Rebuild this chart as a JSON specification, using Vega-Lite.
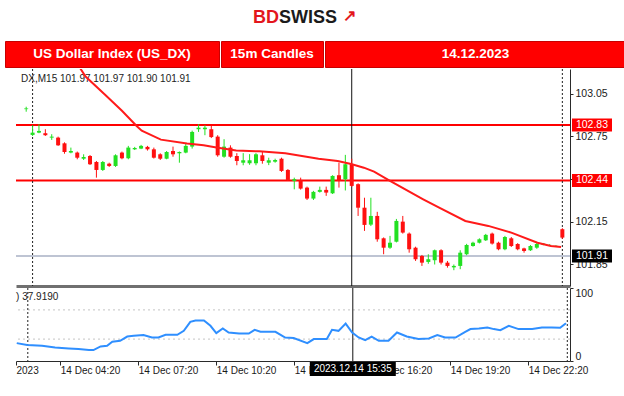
{
  "$schema": "https://vega.github.io/schema/vega-lite/v6.json",
  "background": "white",
  "padding": {"left": 4, "top": 0, "right": 0, "bottom": 0},
  "spacing": 0,
  "config": {
    "view": {"stroke": null},
    "font": "Liberation Sans",
    "axis": {"grid": false, "labelFont": "Liberation Sans", "labelColor": "#1a1a1a", "domainColor": "#2a2a2a", "tickColor": "#2a2a2a", "labelFontSize": 10.5, "zindex": 0}
  },
  "datasets": {
    "candles": [
      {"i":0,"o":102.941,"h":102.958,"l":102.923,"c":102.946},
      {"i":1,"o":102.760,"h":102.828,"l":102.753,"c":102.776},
      {"i":2,"o":102.776,"h":102.835,"l":102.772,"c":102.788},
      {"i":3,"o":102.772,"h":102.800,"l":102.753,"c":102.758},
      {"i":4,"o":102.741,"h":102.765,"l":102.725,"c":102.748},
      {"i":5,"o":102.741,"h":102.748,"l":102.683,"c":102.687},
      {"i":6,"o":102.701,"h":102.708,"l":102.628,"c":102.640},
      {"i":7,"o":102.636,"h":102.671,"l":102.631,"c":102.647},
      {"i":8,"o":102.636,"h":102.643,"l":102.589,"c":102.600},
      {"i":9,"o":102.593,"h":102.624,"l":102.584,"c":102.605},
      {"i":10,"o":102.612,"h":102.619,"l":102.549,"c":102.554},
      {"i":11,"o":102.570,"h":102.577,"l":102.460,"c":102.514},
      {"i":12,"o":102.514,"h":102.577,"l":102.507,"c":102.570},
      {"i":13,"o":102.558,"h":102.565,"l":102.535,"c":102.542},
      {"i":14,"o":102.542,"h":102.624,"l":102.535,"c":102.617},
      {"i":15,"o":102.636,"h":102.643,"l":102.589,"c":102.596},
      {"i":16,"o":102.596,"h":102.683,"l":102.589,"c":102.671},
      {"i":17,"o":102.659,"h":102.676,"l":102.654,"c":102.668},
      {"i":18,"o":102.664,"h":102.690,"l":102.660,"c":102.683},
      {"i":19,"o":102.676,"h":102.683,"l":102.650,"c":102.659},
      {"i":20,"o":102.659,"h":102.671,"l":102.594,"c":102.600},
      {"i":21,"o":102.624,"h":102.631,"l":102.584,"c":102.593},
      {"i":22,"o":102.593,"h":102.647,"l":102.589,"c":102.640},
      {"i":23,"o":102.647,"h":102.678,"l":102.607,"c":102.624},
      {"i":24,"o":102.631,"h":102.644,"l":102.565,"c":102.640},
      {"i":25,"o":102.636,"h":102.701,"l":102.631,"c":102.683},
      {"i":26,"o":102.678,"h":102.790,"l":102.664,"c":102.781},
      {"i":27,"o":102.800,"h":102.835,"l":102.781,"c":102.811},
      {"i":28,"o":102.800,"h":102.828,"l":102.758,"c":102.811},
      {"i":29,"o":102.800,"h":102.823,"l":102.738,"c":102.745},
      {"i":30,"o":102.748,"h":102.758,"l":102.607,"c":102.617},
      {"i":31,"o":102.607,"h":102.730,"l":102.600,"c":102.678},
      {"i":32,"o":102.671,"h":102.687,"l":102.600,"c":102.607},
      {"i":33,"o":102.612,"h":102.632,"l":102.547,"c":102.577},
      {"i":34,"o":102.565,"h":102.632,"l":102.547,"c":102.582},
      {"i":35,"o":102.561,"h":102.625,"l":102.550,"c":102.582},
      {"i":36,"o":102.561,"h":102.632,"l":102.547,"c":102.624},
      {"i":37,"o":102.617,"h":102.640,"l":102.558,"c":102.577},
      {"i":38,"o":102.565,"h":102.600,"l":102.548,"c":102.582},
      {"i":39,"o":102.572,"h":102.593,"l":102.565,"c":102.584},
      {"i":40,"o":102.593,"h":102.600,"l":102.500,"c":102.507},
      {"i":41,"o":102.514,"h":102.520,"l":102.437,"c":102.444},
      {"i":42,"o":102.437,"h":102.460,"l":102.378,"c":102.449},
      {"i":43,"o":102.444,"h":102.460,"l":102.376,"c":102.383},
      {"i":44,"o":102.390,"h":102.397,"l":102.303,"c":102.313},
      {"i":45,"o":102.313,"h":102.367,"l":102.303,"c":102.360},
      {"i":46,"o":102.360,"h":102.397,"l":102.355,"c":102.374},
      {"i":47,"o":102.374,"h":102.397,"l":102.332,"c":102.355},
      {"i":48,"o":102.350,"h":102.477,"l":102.345,"c":102.472},
      {"i":49,"o":102.477,"h":102.565,"l":102.390,"c":102.437},
      {"i":50,"o":102.449,"h":102.620,"l":102.370,"c":102.554},
      {"i":51,"o":102.554,"h":102.593,"l":102.395,"c":102.402},
      {"i":52,"o":102.414,"h":102.420,"l":102.191,"c":102.249},
      {"i":53,"o":102.249,"h":102.319,"l":102.086,"c":102.128},
      {"i":54,"o":102.130,"h":102.319,"l":102.120,"c":102.191},
      {"i":55,"o":102.191,"h":102.220,"l":102.010,"c":102.027},
      {"i":56,"o":102.034,"h":102.040,"l":101.922,"c":101.968},
      {"i":57,"o":101.968,"h":102.051,"l":101.960,"c":102.003},
      {"i":58,"o":102.010,"h":102.170,"l":102.005,"c":102.156},
      {"i":59,"o":102.151,"h":102.191,"l":102.067,"c":102.074},
      {"i":60,"o":102.067,"h":102.075,"l":101.933,"c":101.957},
      {"i":61,"o":101.968,"h":101.975,"l":101.875,"c":101.887},
      {"i":62,"o":101.910,"h":101.917,"l":101.840,"c":101.863},
      {"i":63,"o":101.868,"h":101.922,"l":101.855,"c":101.887},
      {"i":64,"o":101.880,"h":101.955,"l":101.850,"c":101.950},
      {"i":65,"o":101.950,"h":101.957,"l":101.850,"c":101.863},
      {"i":66,"o":101.863,"h":101.875,"l":101.828,"c":101.840},
      {"i":67,"o":101.830,"h":101.850,"l":101.810,"c":101.840},
      {"i":68,"o":101.840,"h":101.950,"l":101.817,"c":101.933},
      {"i":69,"o":101.922,"h":101.995,"l":101.915,"c":101.987},
      {"i":70,"o":101.980,"h":102.010,"l":101.975,"c":102.003},
      {"i":71,"o":102.003,"h":102.034,"l":101.998,"c":102.027},
      {"i":72,"o":102.020,"h":102.065,"l":102.015,"c":102.058},
      {"i":73,"o":102.067,"h":102.074,"l":101.990,"c":101.997},
      {"i":74,"o":102.003,"h":102.010,"l":101.950,"c":101.957},
      {"i":75,"o":101.957,"h":102.051,"l":101.950,"c":102.043},
      {"i":76,"o":102.034,"h":102.043,"l":101.973,"c":101.980},
      {"i":77,"o":101.994,"h":102.000,"l":101.950,"c":101.957},
      {"i":78,"o":101.963,"h":101.968,"l":101.933,"c":101.945},
      {"i":79,"o":101.950,"h":101.987,"l":101.945,"c":101.980},
      {"i":80,"o":101.968,"h":102.003,"l":101.960,"c":101.994},
      {"i":81,"o":101.990,"h":102.001,"l":101.985,"c":101.997},
      {"i":82,"o":101.984,"h":101.992,"l":101.980,"c":101.988},
      {"i":83,"o":101.978,"h":101.985,"l":101.974,"c":101.981},
      {"i":84,"o":102.098,"h":102.105,"l":102.030,"c":102.039}
    ],
    "ma": [
      {"i":8,"v":103.26},{"i":9.3,"v":103.17},{"i":12.4,"v":103.04},{"i":15,"v":102.93},{"i":17.3,"v":102.823},
      {"i":18.1,"v":102.79},{"i":21.1,"v":102.727},{"i":25.2,"v":102.70},{"i":27.8,"v":102.687},{"i":29.8,"v":102.671},
      {"i":32.9,"v":102.650},{"i":36.5,"v":102.645},{"i":40.6,"v":102.631},{"i":45.8,"v":102.593},{"i":48.8,"v":102.577},
      {"i":50.9,"v":102.556},{"i":52.9,"v":102.530},{"i":54.5,"v":102.502},{"i":57.0,"v":102.437},{"i":62.2,"v":102.308},
      {"i":64.7,"v":102.249},{"i":68.8,"v":102.156},{"i":72.4,"v":102.121},{"i":76.0,"v":102.074},{"i":80.1,"v":102.003},
      {"i":82.2,"v":101.980},{"i":83.8,"v":101.973}
    ],
    "rsi": [
      {"i":-0.7,"v":24.5},{"i":0.9,"v":21.8},{"i":3.2,"v":20.9},{"i":5.2,"v":18.5},{"i":7.3,"v":17.2},{"i":8.8,"v":16.3},
      {"i":10.4,"v":15},{"i":11.1,"v":15},{"i":12.2,"v":19.9},{"i":13.2,"v":20.9},{"i":14.0,"v":26.3},{"i":15.2,"v":27.7},
      {"i":16.3,"v":33.5},{"i":17.3,"v":34.5},{"i":18.8,"v":35.5},{"i":20.1,"v":32.2},{"i":21.1,"v":32.2},{"i":22.2,"v":35.9},
      {"i":24.0,"v":35.9},{"i":25.0,"v":41.3},{"i":26.0,"v":53.6},{"i":26.8,"v":55.4},{"i":28.1,"v":55.4},{"i":29.1,"v":48.2},
      {"i":30.0,"v":38.2},{"i":31.0,"v":44.5},{"i":31.9,"v":39},{"i":33.5,"v":37.6},{"i":35.0,"v":37.6},{"i":35.9,"v":42.7},
      {"i":36.8,"v":40},{"i":39.1,"v":40},{"i":40.6,"v":32.2},{"i":41.9,"v":31.4},{"i":44.0,"v":24.5},{"i":45.0,"v":30},
      {"i":47.0,"v":30},{"i":47.8,"v":42.7},{"i":48.8,"v":41.3},{"i":49.9,"v":51.3},{"i":50.9,"v":39},{"i":51.9,"v":32.2},
      {"i":52.9,"v":28.6},{"i":53.9,"v":33.5},{"i":55.0,"v":27.7},{"i":56.5,"v":27.7},{"i":57.8,"v":39},{"i":59.3,"v":33.5},
      {"i":61.1,"v":30},{"i":62.7,"v":30.9},{"i":64.0,"v":35.5},{"i":65.2,"v":32.2},{"i":66.8,"v":32.2},{"i":68.3,"v":40},
      {"i":69.1,"v":43.7},{"i":70.4,"v":44.5},{"i":71.7,"v":45.8},{"i":72.7,"v":43.7},{"i":73.7,"v":42.3},{"i":75.0,"v":48.2},
      {"i":76.5,"v":43.7},{"i":78.6,"v":43.7},{"i":80.1,"v":45.8},{"i":81.6,"v":45.8},{"i":82.9,"v":45.4},{"i":83.8,"v":51.8}
    ],
    "levels": [
      {"price":102.83,"kind":"level"},
      {"price":102.44,"kind":"level"},
      {"price":101.91,"kind":"bid"}
    ],
    "cross": [{"i":51,"label":"2023.12.14 15:35"}],
    "seps": [{"i":1},{"i":84}],
    "rsiLevels": [{"level":30},{"level":70}]
  },
  "vconcat": [
    {
      "width": 617, "height": 40,
      "data": {"values": [{"brand":"BD","rest":"SWISS","arrow":"↗"}]},
      "layer": [
        {"mark": {"type":"text","align":"right","dx":-34.5,"dy":-2,"fontSize":18,"fontWeight":"bold","color":"#e3161d"}, "encoding": {"text": {"field":"brand"}}},
        {"mark": {"type":"text","align":"left","dx":-34.5,"dy":-2,"fontSize":18,"fontWeight":"bold","color":"#1b1b1b"}, "encoding": {"text": {"field":"rest"}}},
        {"mark": {"type":"text","align":"left","dx":29,"dy":-4,"fontSize":16,"fontWeight":"bold","color":"#e3161d"}, "encoding": {"text": {"field":"arrow"}}}
      ]
    },
    {
      "spacing": 0,
      "hconcat": [
        {"width": 214, "height": 26, "view": {"fill":"#ff0000","stroke":"#c80000"}, "data": {"values":[{"t":"US Dollar Index (US_DX)"}]}, "mark": {"type":"text","color":"white","fontSize":13.5,"fontWeight":"bold"}, "encoding": {"text":{"field":"t"}}},
        {"width": 102, "height": 26, "view": {"fill":"#ff0000","stroke":"#c80000"}, "data": {"values":[{"t":"15m Candles"}]}, "mark": {"type":"text","color":"white","fontSize":13.5,"fontWeight":"bold"}, "encoding": {"text":{"field":"t"}}},
        {"width": 301, "height": 26, "view": {"fill":"#ff0000","stroke":"#c80000"}, "data": {"values":[{"t":"14.12.2023"}]}, "mark": {"type":"text","color":"white","fontSize":13.5,"fontWeight":"bold"}, "encoding": {"text":{"field":"t"}}}
      ]
    },
    {
      "spacing": 0,
      "hconcat": [
        {"width": 10, "height": 10, "data": {"values": [{}]}, "mark": {"type":"text"}, "encoding": {}},
        {
          "spacing": 0,
          "vconcat": [
            {
              "width": 554, "height": 217,
              "layer": [
                {
                  "data": {"name":"levels"},
                  "mark": {"type":"rule"},
                  "encoding": {
                    "y": {"field":"price","type":"quantitative","title":null,"scale":{"domain":[101.699,103.223],"nice":false,"zero":false},
                          "axis": {"orient":"right","values":[101.85,102.15,102.45,102.75,103.05],"format":".2f","tickSize":3,"labelPadding":2,"labelFontSize":10.5,"zindex":0}},
                    "color": {"condition": {"test":"datum.kind === 'bid'","value":"#a9b1c4"},"value":"#ff0000"},
                    "strokeWidth": {"condition": {"test":"datum.kind === 'bid'","value":1.5},"value":2}
                  }
                },
                {
                  "data": {"name":"seps"},
                  "mark": {"type":"rule","strokeDash":[2,2],"color":"#222222","strokeWidth":1},
                  "encoding": {"x": {"field":"i","type":"quantitative","title":null,"scale":{"domain":[-0.815,84.415],"nice":false,"zero":false}}}
                },
                {
                  "data": {"name":"cross"},
                  "mark": {"type":"rule","color":"#111111","strokeWidth":1},
                  "encoding": {"x": {"field":"i","type":"quantitative","title":null,"scale":{"domain":[-0.815,84.415],"nice":false,"zero":false}}}
                },
                {
                  "data": {"values":[{"t":"DX,M15  101.97 101.97 101.90 101.91"}]},
                  "mark": {"type":"text","align":"left","baseline":"middle","fontSize":10,"color":"#222222"},
                  "encoding": {
                    "x": {"datum":-0.8,"type":"quantitative","title":null,"scale":{"domain":[-0.815,84.415],"nice":false,"zero":false}},
                    "y": {"datum":103.15,"type":"quantitative","title":null,"scale":{"domain":[101.699,103.223],"nice":false,"zero":false}},
                    "text": {"field":"t"}
                  }
                },
                {
                  "data": {"name":"candles"},
                  "mark": {"type":"rule","strokeWidth":1,"clip":true},
                  "encoding": {
                    "x": {"field":"i","type":"quantitative","title":null,"scale":{"domain":[-0.815,84.415],"nice":false,"zero":false},
                          "axis": {"labels":false,"ticks":false,"domainWidth":3,"domainColor":"#707070","zindex":0}},
                    "y": {"field":"l","type":"quantitative","title":null,"scale":{"domain":[101.699,103.223],"nice":false,"zero":false}},
                    "y2": {"field":"h"},
                    "color": {"condition": {"test":"datum.c >= datum.o","value":"#22e022"},"value":"#ff1010"}
                  }
                },
                {
                  "data": {"name":"candles"},
                  "mark": {"type":"bar","width":4,"clip":true,"opacity":1},
                  "encoding": {
                    "x": {"field":"i","type":"quantitative","title":null,"scale":{"domain":[-0.815,84.415],"nice":false,"zero":false}},
                    "y": {"field":"o","type":"quantitative","title":null,"scale":{"domain":[101.699,103.223],"nice":false,"zero":false}},
                    "y2": {"field":"c"},
                    "color": {"condition": {"test":"datum.c >= datum.o","value":"#22e022"},"value":"#ff1010"}
                  }
                },
                {
                  "data": {"name":"ma"},
                  "mark": {"type":"line","color":"#ff1a1a","strokeWidth":2,"clip":true},
                  "encoding": {
                    "x": {"field":"i","type":"quantitative","title":null,"scale":{"domain":[-0.815,84.415],"nice":false,"zero":false}},
                    "y": {"field":"v","type":"quantitative","title":null,"scale":{"domain":[101.699,103.223],"nice":false,"zero":false}}
                  }
                },
                {
                  "data": {"name":"levels"},
                  "mark": {"type":"tick","orient":"horizontal","size":40,"thickness":13,"xOffset":22,"opacity":1},
                  "encoding": {
                    "x": {"value":"width"},
                    "y": {"field":"price","type":"quantitative","title":null,"scale":{"domain":[101.699,103.223],"nice":false,"zero":false}},
                    "color": {"condition": {"test":"datum.kind === 'bid'","value":"#000000"},"value":"#ff0000"}
                  }
                },
                {
                  "data": {"name":"levels"},
                  "mark": {"type":"text","color":"white","fontSize":10.5,"align":"center","baseline":"middle","xOffset":22},
                  "encoding": {
                    "x": {"value":"width"},
                    "y": {"field":"price","type":"quantitative","title":null,"scale":{"domain":[101.699,103.223],"nice":false,"zero":false}},
                    "text": {"field":"price","type":"quantitative","format":".2f"}
                  }
                }
              ]
            },
            {
              "width": 554, "height": 73,
              "layer": [
                {
                  "data": {"name":"rsiLevels"},
                  "mark": {"type":"rule","strokeDash":[2,3],"color":"#c4c4c4","strokeWidth":1},
                  "encoding": {
                    "y": {"field":"level","type":"quantitative","title":null,"scale":{"domain":[0,100],"nice":false,"zero":false},
                          "axis": {"orient":"right","values":[0,30,70,100],"tickSize":3,"labelPadding":2,"labelFlush":true,"labelFontSize":10.5,"zindex":0}}
                  }
                },
                {
                  "data": {"name":"seps"},
                  "mark": {"type":"rule","strokeDash":[2,2],"color":"#222222","strokeWidth":1},
                  "encoding": {"x": {"field":"i","type":"quantitative","title":null,"scale":{"domain":[-0.815,84.415],"nice":false,"zero":false}}}
                },
                {
                  "data": {"name":"cross"},
                  "mark": {"type":"rule","color":"#111111","strokeWidth":1},
                  "encoding": {"x": {"field":"i","type":"quantitative","title":null,"scale":{"domain":[-0.815,84.415],"nice":false,"zero":false}}}
                },
                {
                  "data": {"values":[{"t":") 37.9190"}]},
                  "mark": {"type":"text","align":"left","baseline":"middle","fontSize":10,"color":"#222222"},
                  "encoding": {
                    "x": {"datum":-0.8,"type":"quantitative","title":null,"scale":{"domain":[-0.815,84.415],"nice":false,"zero":false}},
                    "y": {"datum":87.5,"type":"quantitative","title":null,"scale":{"domain":[0,100],"nice":false,"zero":false}},
                    "text": {"field":"t"}
                  }
                },
                {
                  "data": {"name":"rsi"},
                  "mark": {"type":"line","color":"#2f8fff","strokeWidth":2,"clip":true},
                  "encoding": {
                    "x": {"field":"i","type":"quantitative","title":null,"scale":{"domain":[-0.815,84.415],"nice":false,"zero":false},
                          "axis": {"orient":"bottom","values":[-0.815,6,18,30,42,54,66,78],
                                   "labelExpr":"datum.value < 0 ? '2023' : '14 Dec ' + timeFormat(datetime(2023, 11, 14, 2, 50 + 15 * datum.value), '%H:%M')",
                                   "labelAlign":"left","labelOverlap":false,"labelBound":false,"labelFlush":false,"labelFontSize":10,
                                   "tickSize":4,"labelPadding":0,"zindex":0}},
                    "y": {"field":"v","type":"quantitative","title":null,"scale":{"domain":[0,100],"nice":false,"zero":false}}
                  }
                },
                {
                  "data": {"name":"cross"},
                  "mark": {"type":"tick","orient":"horizontal","size":86,"thickness":14,"yOffset":8,"opacity":1,"color":"#000000"},
                  "encoding": {
                    "x": {"field":"i","type":"quantitative","title":null,"scale":{"domain":[-0.815,84.415],"nice":false,"zero":false}},
                    "y": {"value":"height"}
                  }
                },
                {
                  "data": {"name":"cross"},
                  "mark": {"type":"text","color":"white","fontSize":10,"align":"center","baseline":"middle","yOffset":8},
                  "encoding": {
                    "x": {"field":"i","type":"quantitative","title":null,"scale":{"domain":[-0.815,84.415],"nice":false,"zero":false}},
                    "y": {"value":"height"},
                    "text": {"field":"label"}
                  }
                }
              ]
            }
          ]
        }
      ]
    }
  ]
}
